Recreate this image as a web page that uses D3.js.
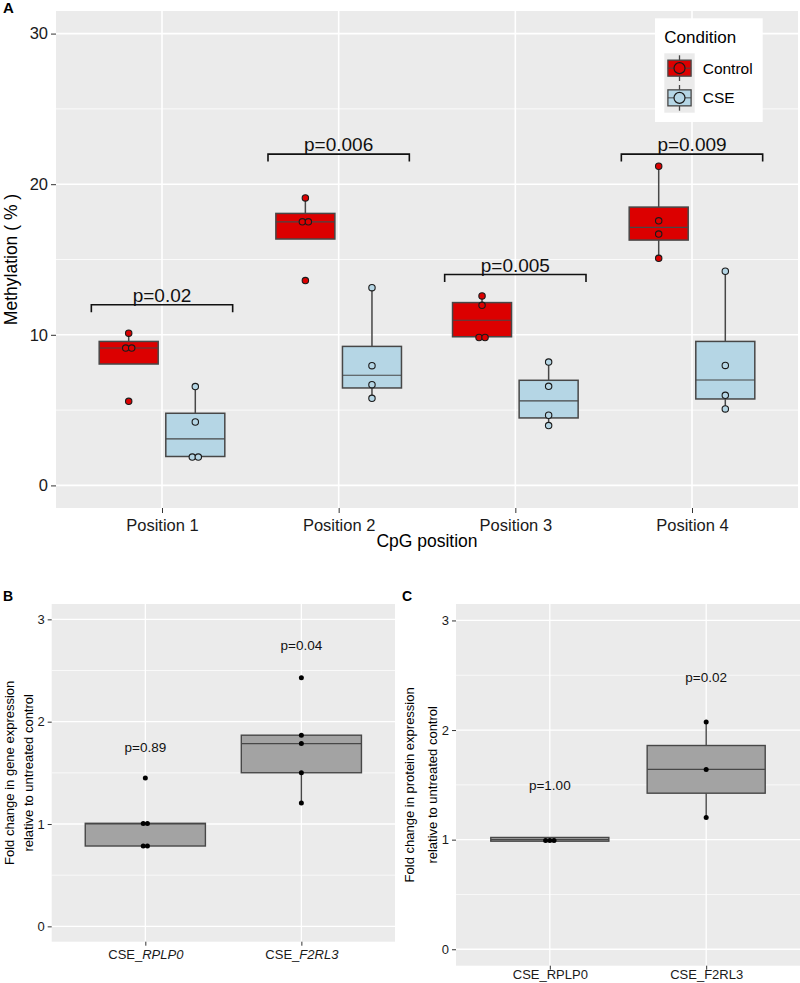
<!DOCTYPE html>
<html><head><meta charset="utf-8">
<script src="https://cdn.jsdelivr.net/npm/d3@7"></script>
<style>body{margin:0;background:#fff}svg{display:block;font-family:"Liberation Sans",Arial,Helvetica,sans-serif}</style>
</head><body><svg id="c" width="800" height="983"></svg>
<script>
// ---------- Panel A data ----------
const positions = ["Position 1","Position 2","Position 3","Position 4"];
const conditions = ["Control","CSE"];
const controlQ1 = [8.06, 16.36, 9.87, 16.29];
const controlMedian = [9.12, 17.5, 10.97, 17.13];
const controlQ3 = [9.56, 18.06, 12.14, 18.48];
const controlWhiskerLow = [8.06, 16.36, 9.82, 15.08];
const controlWhiskerHigh = [10.11, 19.09, 12.58, 21.19];
const controlPoints = [[10.11, 9.12, 9.12, 5.58],[19.09, 17.5, 17.5, 13.6],[12.58, 11.96, 9.82, 9.82],[21.19, 17.57, 16.69, 15.08]];
const cseQ1 = [1.92, 6.47, 4.48, 5.74];
const cseMedian = [3.09, 7.31, 5.61, 7.0];
const cseQ3 = [4.79, 9.23, 6.98, 9.56];
const cseWhiskerLow = [1.88, 5.78, 3.97, 5.08];
const cseWhiskerHigh = [6.56, 13.13, 8.19, 14.22];
const csePoints = [[6.56, 4.21, 1.88, 1.88],[13.13, 7.95, 6.69, 5.78],[8.19, 6.58, 4.66, 3.97],[14.22, 7.97, 5.98, 5.08]];
const bracketY = [12, 22, 14, 22];
const bracketLabels = ["p=0.02","p=0.006","p=0.005","p=0.009"];
const methTicks = [0, 10, 20, 30];
const methMinor = [5, 15, 25];

// ---------- Panel B data ----------
const genes = ["RPLP0","F2RL3"];
const geneQ1 = [0.785, 1.501];
const geneMedian = [1.0, 1.786];
const geneQ3 = [1.007, 1.868];
const geneWhiskerLow = [0.785, 1.206];
const geneWhiskerHigh = [1.007, 1.868];
const genePoints = [[1.449, 1.005, 1.005, 0.785, 0.785],[2.429, 1.868, 1.786, 1.501, 1.206]];
const geneP = ["p=0.89","p=0.04"];
const genePY = [1.70, 2.70];

// ---------- Panel C data ----------
const proteins = ["RPLP0","F2RL3"];
const protQ1 = [0.986, 1.424];
const protMedian = [1.0, 1.641];
const protQ3 = [1.02, 1.859];
const protWhiskerLow = [0.986, 1.203];
const protWhiskerHigh = [1.02, 2.074];
const protPoints = [[0.993, 0.993, 0.993],[2.074, 1.641, 1.203]];
const protP = ["p=1.00","p=0.02"];
const protPY = [1.45, 2.44];
const foldTicks = [0, 1, 2, 3];
const foldMinor = [0.5, 1.5, 2.5];

const svg = d3.select("#c");
const PANEL = "#EBEBEB", BOXLINE = "#474747";

function spread(vals, spacing){
  const groups = d3.group(vals.map((v,i)=>({v,i})), d=>d.v.toFixed(2));
  const out = vals.map(v=>({v, dx:0}));
  for (const [,g] of groups){ g.forEach((d,k)=>{ out[d.i].dx = (k-(g.length-1)/2)*spacing; }); }
  return out;
}

function panelFrame(g, x, y, cats, ticks, minor, opts){
  const [x0,x1] = x.range(), [y0,y1] = y.range();
  g.append("rect").attr("x",x0).attr("y",y1).attr("width",x1-x0).attr("height",y0-y1).attr("fill",PANEL);
  g.selectAll(".mn").data(minor).join("line").attr("x1",x0).attr("x2",x1)
    .attr("y1",d=>y(d)).attr("y2",d=>y(d)).attr("stroke","#fff").attr("stroke-width",opts.minorW);
  g.selectAll(".mj").data(ticks).join("line").attr("x1",x0).attr("x2",x1)
    .attr("y1",d=>y(d)).attr("y2",d=>y(d)).attr("stroke","#fff").attr("stroke-width",opts.majorW);
  g.selectAll(".vx").data(cats).join("line").attr("y1",y0).attr("y2",y1)
    .attr("x1",d=>x(d)).attr("x2",d=>x(d)).attr("stroke","#fff").attr("stroke-width",opts.majorW);
  const ya = g.append("g").attr("transform",`translate(${x0},0)`)
    .call(d3.axisLeft(y).tickValues(ticks).tickSize(opts.tick).tickPadding(opts.pad).tickFormat(d3.format("d")));
  ya.select(".domain").remove();
  ya.selectAll("line").attr("stroke","#333");
  ya.selectAll("text").attr("font-size",opts.fs).attr("fill","#1a1a1a");
  const xa = g.append("g").attr("transform",`translate(0,${y0})`)
    .call(d3.axisBottom(x).tickSize(opts.tick).tickPadding(opts.xpad));
  xa.select(".domain").remove();
  xa.selectAll("line").attr("stroke","#333");
  xa.selectAll("text").attr("font-size",opts.xfs).attr("fill","#1a1a1a");
  xa.attr("font-family",null); ya.attr("font-family",null);
  return xa;
}

function drawBox(g, cx, w, q1, med, q3, wl, wh, fill, y, lw){
  g.append("line").attr("x1",cx).attr("x2",cx).attr("y1",y(q3)).attr("y2",y(wh)).attr("stroke",BOXLINE).attr("stroke-width",lw);
  g.append("line").attr("x1",cx).attr("x2",cx).attr("y1",y(q1)).attr("y2",y(wl)).attr("stroke",BOXLINE).attr("stroke-width",lw);
  g.append("rect").attr("x",cx-w/2).attr("width",w).attr("y",y(q3)).attr("height",Math.max(0.5,y(q1)-y(q3)))
    .attr("fill",fill).attr("stroke",BOXLINE).attr("stroke-width",lw);
  g.append("line").attr("x1",cx-w/2).attr("x2",cx+w/2).attr("y1",y(med)).attr("y2",y(med)).attr("stroke",BOXLINE).attr("stroke-width",1.1);
}

// ================= Panel A =================
{
  const g = svg.append("g");
  const x = d3.scalePoint().domain(positions).range([56,798]).padding(0.6);
  const y = d3.scaleLinear().domain([-1.5,31.5]).range([508,11]);
  const step = x.step();
  panelFrame(g, x, y, positions, methTicks, methMinor, {minorW:0.8, majorW:1.6, tick:5, pad:3, xpad:6, fs:16.5, xfs:16.5});
  const colors = {Control:"#DC0000", CSE:"#B5D6E5"};
  const stats = {
    Control:{q1:controlQ1, med:controlMedian, q3:controlQ3, wl:controlWhiskerLow, wh:controlWhiskerHigh, pts:controlPoints},
    CSE:{q1:cseQ1, med:cseMedian, q3:cseQ3, wl:cseWhiskerLow, wh:cseWhiskerHigh, pts:csePoints}
  };
  const dodge = d3.scaleBand().domain(conditions).range([-0.377*step, 0.377*step]);
  const bw = 0.334*step;
  positions.forEach((p,i)=>{
    conditions.forEach(c=>{
      const s = stats[c];
      const cx = x(p) + dodge(c) + dodge.bandwidth()/2;
      drawBox(g, cx, bw, s.q1[i], s.med[i], s.q3[i], s.wl[i], s.wh[i], colors[c], y, 1.5);
      g.selectAll(null).data(spread(s.pts[i], 6)).join("circle")
        .attr("cx",d=>cx+d.dx).attr("cy",d=>y(d.v)).attr("r",3.2)
        .attr("fill",colors[c]).attr("stroke","#1a1a1a").attr("stroke-width",1.1);
    });
    const bx0 = x(p)-0.4*step, bx1 = x(p)+0.4*step;
    g.append("path").attr("d",`M${bx0},${y(bracketY[i]-0.5)}V${y(bracketY[i])}H${bx1}V${y(bracketY[i]-0.5)}`)
      .attr("fill","none").attr("stroke","#111").attr("stroke-width",1.6);
    g.append("text").attr("x",x(p)).attr("y",y(bracketY[i])-3).attr("text-anchor","middle")
      .attr("font-size",19).attr("fill","#111").text(bracketLabels[i]);
  });
  g.append("text").attr("x",427).attr("y",547).attr("text-anchor","middle").attr("font-size",17.5).text("CpG position");
  g.append("text").attr("transform",`translate(11,259.5) rotate(-90)`).attr("dy","0.35em").attr("text-anchor","middle")
    .attr("font-size",17.5).text("Methylation ( % )");
  g.append("text").attr("x",3).attr("y",13).attr("font-size",15).attr("font-weight","bold").text("A");
  const lg = g.append("g");
  lg.append("rect").attr("x",655).attr("y",18.3).attr("width",107.7).attr("height",103.7).attr("fill","#fff");
  lg.append("text").attr("x",664.3).attr("y",42.7).attr("font-size",17).text("Condition");
  conditions.forEach((c,k)=>{
    const ky = 53.3 + k*29.7, kcx = 679.5, kcy = ky + 14.85;
    lg.append("rect").attr("x",664.3).attr("y",ky).attr("width",30.4).attr("height",29.7).attr("fill",PANEL);
    lg.append("line").attr("x1",kcx).attr("x2",kcx).attr("y1",ky+2).attr("y2",ky+27.7).attr("stroke",BOXLINE).attr("stroke-width",1.3);
    lg.append("rect").attr("x",kcx-11.6).attr("y",kcy-8).attr("width",23.2).attr("height",16).attr("fill",colors[c]).attr("stroke",BOXLINE).attr("stroke-width",1.3);
    lg.append("line").attr("x1",kcx-11.6).attr("x2",kcx+11.6).attr("y1",kcy).attr("y2",kcy).attr("stroke",BOXLINE).attr("stroke-width",1);
    lg.append("circle").attr("cx",kcx).attr("cy",kcy).attr("r",5.5).attr("fill",colors[c]).attr("stroke","#1a1a1a").attr("stroke-width",1.2);
    lg.append("text").attr("x",702.7).attr("y",kcy+5.5).attr("font-size",15.5).text(c);
  });
}

// ================= Panels B, C =================
function foldPanel(cfg){
  const g = svg.append("g");
  const x = d3.scalePoint().domain(cfg.cats).range(cfg.xr).padding(0.6);
  const y = d3.scaleLinear().domain([-0.15,3.15]).range(cfg.yr);
  const step = x.step();
  const xa = panelFrame(g, x, y, cfg.cats, foldTicks, foldMinor, {minorW:0.7, majorW:1.3, tick:4, pad:3, xpad:cfg.xpad, fs:13, xfs:13});
  xa.selectAll("text").text(null).each(function(d){
    const t = d3.select(this);
    t.append("tspan").text("CSE_");
    t.append("tspan").attr("font-style",cfg.italic?"italic":null).text(d);
  });
  cfg.cats.forEach((c,i)=>{
    const cx = x(c);
    drawBox(g, cx, cfg.bw*step, cfg.q1[i], cfg.med[i], cfg.q3[i], cfg.wl[i], cfg.wh[i], "#A3A3A3", y, 1.4);
    g.selectAll(null).data(spread(cfg.pts[i], 4.2)).join("circle")
      .attr("cx",d=>cx+d.dx).attr("cy",d=>y(d.v)).attr("r",2.5).attr("fill","#000");
    g.append("text").attr("x",cx).attr("y",y(cfg.py[i])).attr("text-anchor","middle").attr("font-size",13.5).attr("fill","#111").text(cfg.p[i]);
  });
  const yc = (cfg.yr[0]+cfg.yr[1])/2;
  cfg.titles.forEach((t,k)=>{
    g.append("text").attr("transform",`translate(${cfg.tx[k]},${yc}) rotate(-90)`).attr("dy","0.35em")
      .attr("text-anchor","middle").attr("font-size",13).text(t);
  });
  g.append("text").attr("x",cfg.lx).attr("y",601).attr("font-size",14).attr("font-weight","bold").text(cfg.letter);
}

foldPanel({cats:genes, xr:[51.7,395], yr:[941.7,604], bw:0.77, q1:geneQ1, med:geneMedian, q3:geneQ3, wl:geneWhiskerLow, wh:geneWhiskerHigh,
  pts:genePoints, p:geneP, py:genePY, italic:true, xpad:4,
  titles:["Fold change in gene expression","relative to untreated control"], tx:[9.5,28], letter:"B", lx:3});
foldPanel({cats:proteins, xr:[456,800], yr:[965.7,604], bw:0.755, q1:protQ1, med:protMedian, q3:protQ3, wl:protWhiskerLow, wh:protWhiskerHigh,
  pts:protPoints, p:protP, py:protPY, italic:false, xpad:0.5,
  titles:["Fold change in protein expression","relative to untreated control"], tx:[409.5,432.5], letter:"C", lx:402});
</script></body></html>
